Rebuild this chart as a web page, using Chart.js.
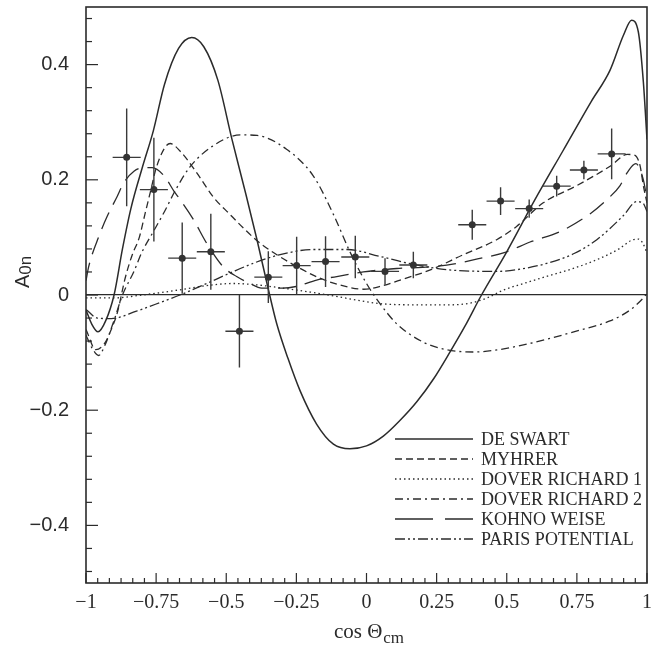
<!DOCTYPE html>
<html lang="en">
<head>
<meta charset="utf-8">
<title>A0n vs cos theta</title>
<script src="https://cdn.jsdelivr.net/npm/chart.js@4.4.1/dist/chart.umd.min.js"></script>
<style>
  html, body { margin: 0; padding: 0; background: #fff; }
</style>
</head>
<body>
<canvas id="chart" width="651" height="654"></canvas>
<script>
// axis ticks
var xTicks = [-1, -0.75, -0.5, -0.25, 0, 0.25, 0.5, 0.75, 1];
var yTicks = [-0.4, -0.2, 0, 0.2, 0.4];

// measured points
var dataCos  = [-0.855, -0.758, -0.657, -0.555, -0.453, -0.35, -0.249, -0.146, -0.04, 0.066, 0.167, 0.377, 0.478, 0.58, 0.678, 0.775, 0.874];
var dataA    = [0.239, 0.183, 0.064, 0.075, -0.063, 0.031, 0.051, 0.058, 0.066, 0.041, 0.052, 0.122, 0.163, 0.150, 0.189, 0.217, 0.245];
var dataErrA = [0.085, 0.09, 0.062, 0.066, 0.063, 0.045, 0.05, 0.044, 0.037, 0.023, 0.023, 0.026, 0.024, 0.016, 0.018, 0.016, 0.044];
var dataErrCos = [0.05, 0.05, 0.05, 0.05, 0.05, 0.05, 0.05, 0.05, 0.05, 0.05, 0.05, 0.05, 0.05, 0.05, 0.05, 0.05, 0.05];

// model curves
var deSwartX = [-1, -0.98, -0.957, -0.93, -0.9, -0.87, -0.84, -0.8, -0.76, -0.72, -0.67, -0.623, -0.58, -0.53, -0.48, -0.43, -0.39, -0.35, -0.32, -0.28, -0.237, -0.178, -0.118, -0.059, 0, 0.06, 0.119, 0.18, 0.24, 0.3, 0.35, 0.41, 0.5, 0.6, 0.7, 0.8, 0.868, 0.916, 0.945, 0.969, 0.987, 1];
var deSwartY = [-0.026, -0.05, -0.064, -0.045, 0.0, 0.08, 0.15, 0.22, 0.285, 0.366, 0.428, 0.447, 0.431, 0.373, 0.271, 0.175, 0.095, 0.01, -0.05, -0.11, -0.166, -0.224, -0.259, -0.267, -0.262, -0.245, -0.218, -0.185, -0.145, -0.097, -0.055, 0.0, 0.075, 0.165, 0.25, 0.335, 0.39, 0.451, 0.477, 0.457, 0.37, 0.27];

var myhrerX = [-1, -0.965, -0.935, -0.91, -0.888, -0.86, -0.835, -0.81, -0.79, -0.77, -0.75, -0.72, -0.7, -0.665, -0.605, -0.546, -0.487, -0.43, -0.38, -0.32, -0.24, -0.17, -0.1, -0.01, 0.05, 0.12, 0.23, 0.345, 0.464, 0.535, 0.63, 0.75, 0.87, 0.93, 0.955, 0.975, 0.987, 1];
var myhrerY = [-0.06, -0.095, -0.085, -0.06, -0.03, 0.03, 0.07, 0.1, 0.14, 0.18, 0.22, 0.255, 0.263, 0.25, 0.212, 0.17, 0.14, 0.112, 0.09, 0.07, 0.047, 0.03, 0.018, 0.01, 0.015, 0.026, 0.044, 0.07, 0.096, 0.119, 0.16, 0.19, 0.224, 0.244, 0.243, 0.225, 0.19, 0.16];

var dover1X = [-1, -0.9, -0.8, -0.665, -0.59, -0.475, -0.4, -0.3, -0.2, -0.1, -0.035, 0.05, 0.15, 0.3, 0.37, 0.43, 0.49, 0.56, 0.64, 0.73, 0.82, 0.9, 0.95, 0.97, 0.985, 1];
var dover1Y = [-0.005, -0.005, 0.0, 0.009, 0.015, 0.02, 0.018, 0.012, 0.005, -0.003, -0.009, -0.015, -0.017, -0.017, -0.014, -0.005, 0.009, 0.02, 0.032, 0.045, 0.061, 0.08, 0.096, 0.097, 0.09, 0.073];

var dover2X = [-1, -0.975, -0.955, -0.935, -0.9, -0.87, -0.83, -0.8, -0.76, -0.72, -0.68, -0.63, -0.55, -0.45, -0.39, -0.285, -0.19, -0.118, -0.059, 0, 0.048, 0.108, 0.203, 0.286, 0.38, 0.47, 0.583, 0.761, 0.868, 0.94, 0.987, 1];
var dover2Y = [-0.07, -0.095, -0.105, -0.09, -0.044, 0.0, 0.04, 0.075, 0.11, 0.145, 0.183, 0.222, 0.258, 0.278, 0.277, 0.253, 0.207, 0.14, 0.075, 0.02, -0.015, -0.05, -0.082, -0.095, -0.099, -0.095, -0.084, -0.061, -0.045, -0.026, -0.005, 0.003];

var kohnoX = [-1, -0.99, -0.954, -0.924, -0.888, -0.865, -0.829, -0.793, -0.764, -0.722, -0.686, -0.665, -0.617, -0.57, -0.511, -0.463, -0.415, -0.374, -0.3, -0.249, -0.178, -0.106, -0.011, 0.108, 0.2, 0.286, 0.4, 0.5, 0.583, 0.69, 0.8, 0.856, 0.904, 0.93, 0.96, 0.987, 1];
var kohnoY = [0.025, 0.05, 0.102, 0.137, 0.172, 0.195, 0.215, 0.221, 0.221, 0.207, 0.18, 0.166, 0.131, 0.09, 0.049, 0.032, 0.02, 0.012, 0.012, 0.015, 0.026, 0.032, 0.04, 0.046, 0.048, 0.052, 0.063, 0.075, 0.092, 0.11, 0.142, 0.165, 0.19, 0.213, 0.228, 0.2, 0.166];

var parisX = [-1, -0.96, -0.91, -0.82, -0.73, -0.665, -0.57, -0.487, -0.404, -0.308, -0.19, -0.07, 0.048, 0.15, 0.286, 0.464, 0.55, 0.643, 0.74, 0.821, 0.916, 0.963, 0.985, 1];
var parisY = [-0.025, -0.04, -0.041, -0.028, -0.012, 0.0, 0.02, 0.038, 0.055, 0.07, 0.079, 0.079, 0.067, 0.055, 0.044, 0.041, 0.045, 0.055, 0.072, 0.096, 0.138, 0.162, 0.16, 0.145];

var ink = '#2b2b2b';

function curve(xs, ys) {
  return xs.map(function (x, i) { return { x: x, y: ys[i] }; });
}

function errorBars() {
  var pts = [];
  for (var i = 0; i < dataCos.length; i++) {
    pts.push({ x: dataCos[i], y: dataA[i] - dataErrA[i] });
    pts.push({ x: dataCos[i], y: dataA[i] + dataErrA[i] });
    pts.push({ x: dataCos[i], y: null });
    pts.push({ x: dataCos[i] - dataErrCos[i], y: dataA[i] });
    pts.push({ x: dataCos[i] + dataErrCos[i], y: dataA[i] });
    pts.push({ x: dataCos[i], y: null });
  }
  return pts;
}

function model(label, xs, ys, dash, width) {
  return {
    label: label,
    isModel: true,
    data: curve(xs, ys),
    showLine: true,
    borderColor: ink,
    borderWidth: width || 1.3,
    borderDash: dash,
    pointRadius: 0,
    cubicInterpolationMode: 'monotone',
    fill: false
  };
}

function fmt(v) {
  if (v === 0) return '0';
  return (v < 0 ? '\u2212' : '') + String(Math.abs(v));
}

var framePlugin = {
  id: 'frame',
  afterDraw: function (chart) {
    var ctx = chart.ctx;
    var a = chart.chartArea;
    var xs = chart.scales.x, ys = chart.scales.y;
    ctx.save();
    ctx.strokeStyle = ink;
    ctx.lineWidth = 1.6;
    ctx.setLineDash([]);
    ctx.strokeRect(a.left, a.top, a.right - a.left, a.bottom - a.top);

    // inward ticks
    ctx.lineWidth = 1.2;
    var i, v, p, len;
    for (i = -24; i <= 24; i++) {
      v = i / 24;
      p = xs.getPixelForValue(v);
      len = (i % 6 === 0) ? 10 : 5;
      ctx.beginPath();
      ctx.moveTo(p, a.bottom);
      ctx.lineTo(p, a.bottom - len);
      ctx.stroke();
    }
    for (i = -12; i <= 12; i++) {
      v = i * 0.04;
      p = ys.getPixelForValue(v);
      len = (i % 5 === 0) ? 12 : 6;
      ctx.beginPath();
      ctx.moveTo(a.left, p);
      ctx.lineTo(a.left + len, p);
      ctx.stroke();
    }

    // x title with subscript
    ctx.fillStyle = ink;
    ctx.textBaseline = 'alphabetic';
    ctx.textAlign = 'left';
    var main = 'cos \u0398', sub = 'cm';
    ctx.font = '21px "Liberation Serif"';
    var w1 = ctx.measureText(main).width;
    ctx.font = '17px "Liberation Serif"';
    var w2 = ctx.measureText(sub).width;
    var cx = (xs.getPixelForValue(0)) + 2;
    var x0 = cx - (w1 + w2) / 2;
    ctx.font = '21px "Liberation Serif"';
    ctx.fillText(main, x0, 638);
    ctx.font = '17px "Liberation Serif"';
    ctx.fillText(sub, x0 + w1 + 1, 643);

    // y title, rotated, with subscript
    ctx.save();
    ctx.translate(29, 272);
    ctx.rotate(-Math.PI / 2);
    ctx.font = '20px "Liberation Sans"';
    var t1 = ctx.measureText('A').width;
    ctx.font = '17px "Liberation Sans"';
    var t2 = ctx.measureText('0n').width;
    var y0 = -(t1 + t2) / 2;
    ctx.font = '20px "Liberation Sans"';
    ctx.fillText('A', y0, 0);
    ctx.font = '17px "Liberation Sans"';
    ctx.fillText('0n', y0 + t1, 2);
    ctx.restore();

    // legend
    var rowY = 439, lx0 = 395, lx1 = 473;
    ctx.font = '18px "Liberation Serif"';
    ctx.textBaseline = 'middle';
    chart.data.datasets.forEach(function (ds) {
      if (!ds.isModel) return;
      ctx.strokeStyle = ink;
      ctx.lineWidth = 1.4;
      ctx.setLineDash(ds.legendDash || ds.borderDash || []);
      ctx.beginPath();
      ctx.moveTo(lx0, rowY);
      ctx.lineTo(lx1, rowY);
      ctx.stroke();
      ctx.setLineDash([]);
      ctx.fillText(ds.label, lx1 + 8, rowY + 1);
      rowY += 20;
    });
    ctx.restore();
  }
};

var kohno = model('KOHNO WEISE', kohnoX, kohnoY, [18, 9]);
kohno.legendDash = [38, 12];

var chart = new Chart(document.getElementById('chart'), {
  type: 'scatter',
  data: {
    datasets: [
      {
        label: 'data',
        data: curve(dataCos, dataA),
        showLine: false,
        pointRadius: 3.5,
        pointBackgroundColor: '#333',
        pointBorderWidth: 0
      },
      {
        label: 'errors',
        data: errorBars(),
        showLine: true,
        spanGaps: false,
        borderColor: '#3a3a3a',
        borderWidth: 1.4,
        pointRadius: 0,
        tension: 0
      },
      model('DE SWART', deSwartX, deSwartY, [], 1.5),
      model('MYHRER', myhrerX, myhrerY, [7, 4]),
      model('DOVER RICHARD 1', dover1X, dover1Y, [1.5, 3]),
      model('DOVER RICHARD 2', dover2X, dover2Y, [8, 4, 2, 4]),
      kohno,
      model('PARIS POTENTIAL', parisX, parisY, [10, 3, 2, 3, 2, 3])
    ]
  },
  options: {
    responsive: false,
    animation: false,
    layout: { padding: { top: 7, right: 3, left: 0, bottom: 0 } },
    plugins: {
      legend: { display: false },
      tooltip: { enabled: false }
    },
    scales: {
      x: {
        type: 'linear',
        min: -1,
        max: 1,
        afterBuildTicks: function (s) { s.ticks = xTicks.map(function (v) { return { value: v }; }); },
        afterFit: function (s) { s.height = 71; s.paddingLeft = 0; s.paddingRight = 0; },
        grid: { display: false, drawTicks: false },
        border: { display: false },
        ticks: {
          padding: 8,
          maxRotation: 0,
          autoSkip: false,
          color: ink,
          font: { family: '"Liberation Serif"', size: 20 },
          callback: function (v) { return fmt(v); }
        }
      },
      y: {
        type: 'linear',
        min: -0.5,
        max: 0.5,
        afterBuildTicks: function (s) { s.ticks = yTicks.map(function (v) { return { value: v }; }); },
        afterFit: function (s) { s.width = 86; s.paddingTop = 0; s.paddingBottom = 0; },
        grid: {
          drawTicks: false,
          lineWidth: 1.3,
          color: function (c) { return (c.tick && c.tick.value === 0) ? ink : 'rgba(0,0,0,0)'; }
        },
        border: { display: false },
        ticks: {
          padding: 17,
          color: ink,
          font: { family: '"Liberation Sans"', size: 20 },
          callback: function (v) { return fmt(v); }
        }
      }
    }
  },
  plugins: [framePlugin]
});
</script>
</body>
</html>
